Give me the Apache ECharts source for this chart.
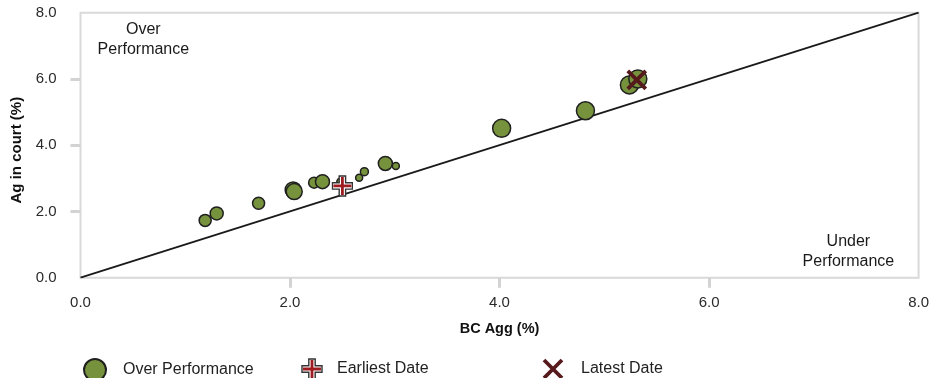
<!DOCTYPE html>
<html>
<head>
<meta charset="utf-8">
<script src="https://cdn.jsdelivr.net/npm/echarts@6/dist/echarts.min.js"></script>
<style>
html,body{margin:0;padding:0;background:#fff;}
#chart{width:932px;height:378px;}
</style>
</head>
<body>
<div id="chart"></div>
<script>
// ---- data ----
var overX    = [1.19, 1.30, 1.70, 2.03, 2.04, 2.23, 2.31, 2.48, 2.66, 2.71, 2.91, 3.01, 4.02, 4.82, 5.24, 5.32];
var overY    = [1.73, 1.94, 2.25, 2.65, 2.60, 2.87, 2.90, 2.90, 3.02, 3.20, 3.45, 3.37, 4.51, 5.04, 5.82, 6.00];
var overSize = [12, 13, 12, 16, 16, 11, 14, 7, 7, 8, 14, 7, 18, 18, 18, 18];
var earliest = [2.50, 2.77];
var latest   = [5.31, 5.97];
var refLine  = [[0, 0], [8, 8]];
var tickValues = [0, 2, 4, 6, 8];
var annotations = [
  {name: 'Over\nPerformance', value: [0.60, 7.20]},
  {name: 'Under\nPerformance', value: [7.33, 0.79]}
];

var FONT = '"Liberation Sans", Arial, sans-serif';

var plusSvg = "<svg xmlns='http://www.w3.org/2000/svg' width='22' height='22' viewBox='0 0 22 22'>" +
  "<path d='M7.8,1 H14.2 V7.8 H21 V14.2 H14.2 V21 H7.8 V14.2 H1 V7.8 H7.8 Z' fill='#ffffff' stroke='#333333' stroke-width='1.4'/>" +
  "<path d='M11,2 V20 M2,11 H20' stroke='#9e1b20' stroke-width='2.8'/></svg>";
var crossSvg = "<svg xmlns='http://www.w3.org/2000/svg' width='22' height='22' viewBox='0 0 22 22'>" +
  "<path d='M2,2 L20,20 M20,2 L2,20' stroke='#561a1c' stroke-width='3.8'/></svg>";
var plusIcon = 'image://data:image/svg+xml;charset=utf-8,' + encodeURIComponent(plusSvg);
var crossIcon = 'image://data:image/svg+xml;charset=utf-8,' + encodeURIComponent(crossSvg);

var overData = overX.map(function (x, i) { return [x, overY[i], overSize[i]]; });

var chart = echarts.init(document.getElementById('chart'), null, {renderer: 'canvas'});

function axisCommon() {
  return {
    type: 'value', min: 0, max: 8, interval: 2,
    axisLine: {show: false},
    splitLine: {show: false},
    axisTick: {show: true, customValues: [2, 4, 6], length: 10, lineStyle: {color: '#d3d3d3', width: 3}},
    axisLabel: {color: '#2a2a2a', fontSize: 15, fontFamily: FONT, customValues: tickValues,
      formatter: function (v) { return v.toFixed(1); }}
  };
}

var xAxis = axisCommon();
xAxis.name = 'BC Agg (%)';
xAxis.nameLocation = 'middle';
xAxis.nameGap = 44;
xAxis.nameTextStyle = {fontWeight: 'bold', fontSize: 14.5, color: '#111', fontFamily: FONT};
xAxis.axisLabel.margin = 18;

var yAxis = axisCommon();
yAxis.name = 'Ag in court (%)';
yAxis.nameLocation = 'middle';
yAxis.nameGap = 53;
yAxis.nameTextStyle = {fontWeight: 'bold', fontSize: 15, color: '#111', fontFamily: FONT, padding: [0, 10, 0, 0]};
yAxis.axisLabel.margin = 24;

function legendAt(left, name, icon, pad) {
  return {
    data: [{name: name, icon: icon}],
    left: left, top: 358, padding: 0,
    itemWidth: 22, itemHeight: 22,
    selectedMode: false,
    textStyle: {fontSize: 16, color: '#222', fontFamily: FONT, padding: [2, 0, 0, pad]}
  };
}

chart.setOption({
  animation: false,
  backgroundColor: '#fff',
  grid: {left: 80.5, right: 12, top: 12.7, bottom: 100.3, show: true,
    borderColor: '#d9d9d9', borderWidth: 2, backgroundColor: 'transparent'},
  xAxis: xAxis,
  yAxis: yAxis,
  legend: [
    legendAt(83, 'Over Performance', 'circle', 12),
    legendAt(301, 'Earliest Date', plusIcon, 9),
    legendAt(542, 'Latest Date', crossIcon, 12)
  ],
  series: [
    {
      name: 'ref', type: 'line', data: refLine, symbol: 'none', silent: true,
      lineStyle: {color: '#1a1a1a', width: 1.8}, z: 1
    },
    {
      name: 'Over Performance', type: 'scatter', data: overData,
      symbol: 'circle',
      symbolSize: function (d) { return d[2]; },
      itemStyle: {color: '#76923c', borderColor: '#1f1f1f', borderWidth: 1.5, opacity: 1},
      z: 3
    },
    {
      name: 'Earliest Date', type: 'scatter', data: [earliest],
      symbol: plusIcon, symbolSize: 22, itemStyle: {opacity: 1}, z: 4
    },
    {
      name: 'Latest Date', type: 'scatter', data: [latest],
      symbol: crossIcon, symbolSize: 22, itemStyle: {opacity: 1}, z: 4
    },
    {
      name: 'annot', type: 'scatter', data: annotations, symbolSize: 0, silent: true,
      itemStyle: {opacity: 1},
      label: {show: true, position: 'inside', formatter: '{b}', fontSize: 16, lineHeight: 20,
        color: '#1a1a1a', fontFamily: FONT, align: 'center', verticalAlign: 'middle'},
      z: 5
    }
  ]
});
</script>
</body>
</html>
